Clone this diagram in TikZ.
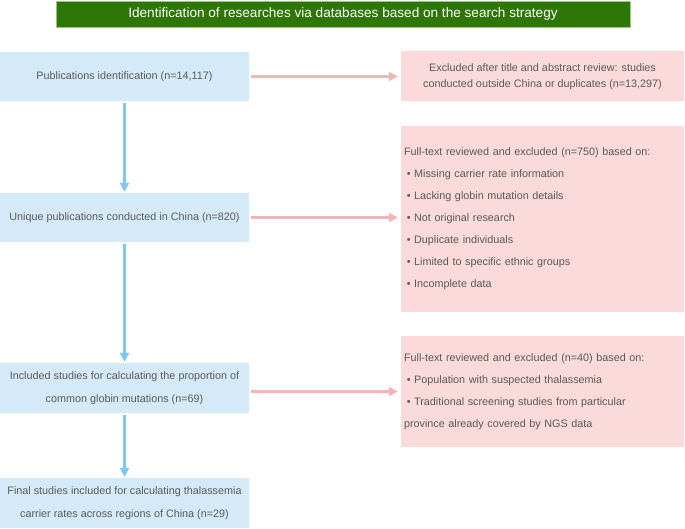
\documentclass[tikz,border=0pt]{standalone}
\usepackage{fontspec}
\setmainfont{Liberation Sans}
\usetikzlibrary{arrows.meta}
\definecolor{hdrgreen}{RGB}{46,118,8}
\definecolor{hdrborder}{RGB}{150,200,120}
\definecolor{bluefill}{RGB}{213,234,248}
\definecolor{pinkfill}{RGB}{250,218,218}
\definecolor{bluearrow}{RGB}{125,200,245}
\definecolor{redarrow}{RGB}{244,180,180}
\definecolor{txtgray}{RGB}{90,90,90}
\tikzset{
  bluebox/.style={fill=bluefill, draw=none, minimum width=249pt, inner sep=2pt,
    text=txtgray, font=\fontsize{10.8}{22.5}\selectfont, align=center},
  pinkbox/.style={fill=pinkfill, draw=none, minimum width=283pt, inner xsep=3pt,
    text=txtgray, font=\fontsize{10.8}{22}\selectfont},
  bluearr/.style={draw=bluearrow, line width=3pt, -{Triangle[width=9pt,length=9pt]},
    shorten <=2pt, shorten >=1pt},
  redarr/.style={draw=redarrow, line width=3pt, -{Triangle[width=9pt,length=9pt]},
    shorten <=2pt, shorten >=3pt},
}
\begin{document}
\begin{tikzpicture}[x=1pt,y=-1pt]
\useasboundingbox (0,0) rectangle (685,529);
\node[fill=hdrgreen, draw=hdrborder, line width=0.6pt, minimum width=574pt, minimum height=26pt,
  text=white, font=\fontsize{13.6}{15}\selectfont] (hdr) at (343,14)
  {Identification of researches via databases based on the search strategy};

\node[bluebox, minimum height=49pt] (b1) at (124.5,76.5) {Publications identification (n=14,117)};
\node[bluebox, minimum height=49pt] (b2) at (124.5,217.5) {Unique publications conducted in China (n=820)};
\node[bluebox, minimum height=50pt] (b3) at (124.5,388)
  {Included studies for calculating the proportion of\\common globin mutations (n=69)};
\node[bluebox, minimum height=50pt] (b4) at (124.5,503)
  {Final studies included for calculating thalassemia\\carrier rates across regions of China (n=29)};

\node[pinkbox, minimum height=50pt, align=center, font=\fontsize{10.8}{16}\selectfont] (p1) at (542.5,76.5)
  {Excluded after title and abstract review: studies\\conducted outside China or duplicates (n=13,297)};
\node[pinkbox, minimum height=186pt, text width=277pt, align=left] (p2) at (542.5,219)
  {Full-text reviewed and excluded (n=750) based on:\\
   \hspace{2.8pt}• Missing carrier rate information\\
   \hspace{2.8pt}• Lacking globin mutation details\\
   \hspace{2.8pt}• Not original research\\
   \hspace{2.8pt}• Duplicate individuals\\
   \hspace{2.8pt}• Limited to specific ethnic groups\\
   \hspace{2.8pt}• Incomplete data};
\node[pinkbox, minimum height=111pt, text width=277pt, align=left] (p3) at (542.5,391.5)
  {Full-text reviewed and excluded (n=40) based on:\\
   \hspace{2.8pt}• Population with suspected thalassemia\\
   \hspace{2.8pt}• Traditional screening studies from particular\\
   province already covered by NGS data};

\draw[redarr] (b1.east) -- (p1.west);
\draw[redarr] (b2.east) -- (b2.east -| p2.west);
\draw[redarr] (p3.west -| b3.east) -- (p3.west);
\draw[bluearr] (b1.south) -- (b2.north);
\draw[bluearr] (b2.south) -- (b3.north);
\draw[bluearr] (b3.south) -- (b4.north);
\end{tikzpicture}
\end{document}
